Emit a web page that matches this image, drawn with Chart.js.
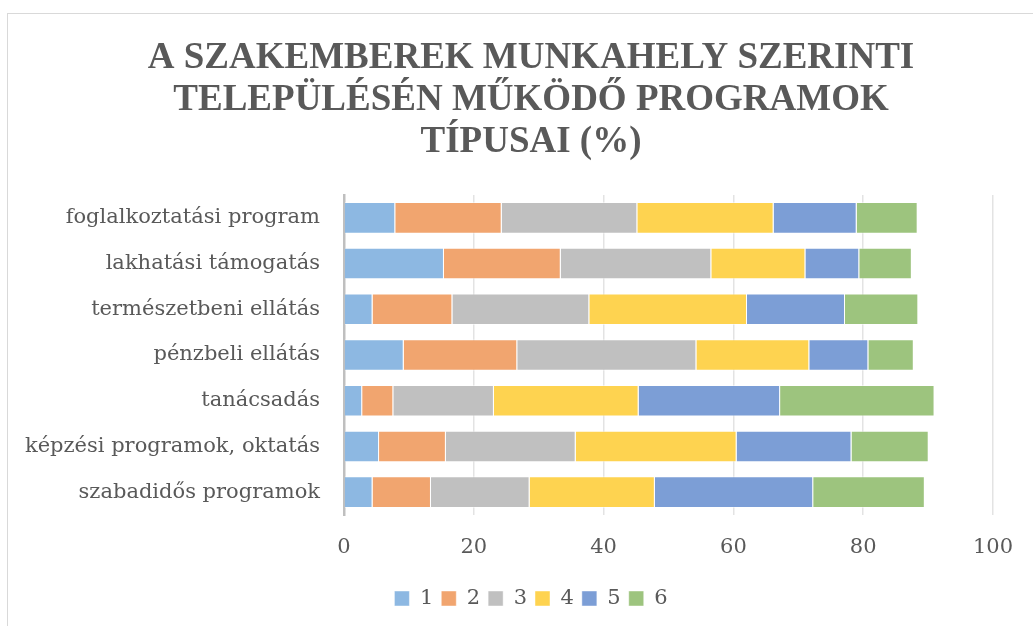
<!DOCTYPE html>
<html>
<head>
<meta charset="utf-8">
<script src="https://cdn.jsdelivr.net/npm/chart.js@4/dist/chart.umd.min.js"></script>
<style>
  html, body { margin: 0; padding: 0; background: #fff; }
  #wrap { width: 1033px; height: 626px; position: relative; }
</style>
</head>
<body>
<div id="wrap"><canvas id="chart"></canvas></div>
<script>
// program types, top to bottom
const categories = [
    'foglalkoztatási program',
    'lakhatási támogatás',
    'természetbeni ellátás',
    'pénzbeli ellátás',
    'tanácsadás',
    'képzési programok, oktatás',
    'szabadidős programok'
];

const seriesNames = ['1', '2', '3', '4', '5', '6'];

const values1 = [7.9, 15.4, 4.4, 9.2, 2.8, 5.4, 4.4];
const values2 = [16.4, 18.0, 12.3, 17.5, 4.8, 10.3, 9.0];
const values3 = [20.9, 23.2, 21.1, 27.6, 15.5, 20.0, 15.2];
const values4 = [21.0, 14.5, 24.3, 17.4, 22.3, 24.8, 19.3];
const values5 = [12.8, 8.3, 15.1, 9.1, 21.8, 17.7, 24.4];
const values6 = [9.4, 8.1, 11.3, 7.0, 23.8, 11.9, 17.2];

const xTicks = [0, 20, 40, 60, 80, 100];

const titleLines = [
    'A SZAKEMBEREK MUNKAHELY SZERINTI',
    'TELEPÜLÉSÉN MŰKÖDŐ PROGRAMOK',
    'TÍPUSAI (%)'
];

const colors = ['#8db8e2', '#f1a56f', '#c0c0c0', '#fed350', '#7c9ed6', '#9dc47e'];
const allValues = [values1, values2, values3, values4, values5, values6];

const textColor = '#595959';
const labelFont = { family: "'DejaVu Serif', serif", size: 21 };

// light frame around the whole chart
const framePlugin = {
    id: 'frame',
    beforeDraw(chart) {
        const ctx = chart.ctx;
        ctx.save();
        ctx.strokeStyle = '#d9d9d9';
        ctx.lineWidth = 1;
        ctx.strokeRect(7.5, 13.5, 1100, 700);
        ctx.restore();
    }
};

// long category names reach past the left padding; widen the label clip box
const labelRoomPlugin = {
    id: 'labelRoom',
    afterLayout(chart) {
        chart.scales.y.left = 0;
    }
};

const datasets = seriesNames.map((name, i) => ({
    label: name,
    data: allValues[i],
    backgroundColor: colors[i],
    borderColor: 'rgba(255,255,255,0.45)',
    borderWidth: 1,
    barPercentage: 0.69,
    categoryPercentage: 1
}));

new Chart(document.getElementById('chart'), {
    type: 'bar',
    data: { labels: categories, datasets: datasets },
    plugins: [framePlugin, labelRoomPlugin],
    options: {
        indexAxis: 'y',
        responsive: true,
        maintainAspectRatio: false,
        animation: false,
        layout: { padding: { left: 68, right: 39, top: 0, bottom: 7 } },
        scales: {
            x: {
                stacked: true,
                min: 0,
                max: 100,
                z: 1,
                afterBuildTicks: (scale) => {
                    scale.ticks = xTicks.map(v => ({ value: v }));
                },
                afterFit: (scale) => { scale.height = 65; },
                border: { display: false },
                grid: {
                    drawTicks: false,
                    lineWidth: 1.5,
                    color: (ctx) => ctx.tick && ctx.tick.value === 0 ? 'rgba(0,0,0,0)' : 'rgba(0,0,0,0.11)'
                },
                ticks: { color: textColor, font: labelFont, padding: 20 }
            },
            y: {
                stacked: true,
                afterFit: (scale) => { scale.width = 276; },
                border: { display: true, color: '#bfbfbf', width: 2.5 },
                grid: { display: false, drawTicks: false },
                ticks: { color: textColor, font: labelFont, padding: 24 }
            }
        },
        plugins: {
            title: {
                display: true,
                text: titleLines,
                color: textColor,
                font: { family: "'Liberation Serif', serif", size: 37, weight: 'bold', lineHeight: 42 / 37 },
                padding: { top: 37, bottom: 32 }
            },
            legend: {
                position: 'bottom',
                labels: {
                    color: textColor,
                    font: labelFont,
                    boxWidth: 15,
                    boxHeight: 15,
                    padding: 8
                }
            },
            tooltip: { enabled: false }
        }
    }
});
</script>
</body>
</html>
